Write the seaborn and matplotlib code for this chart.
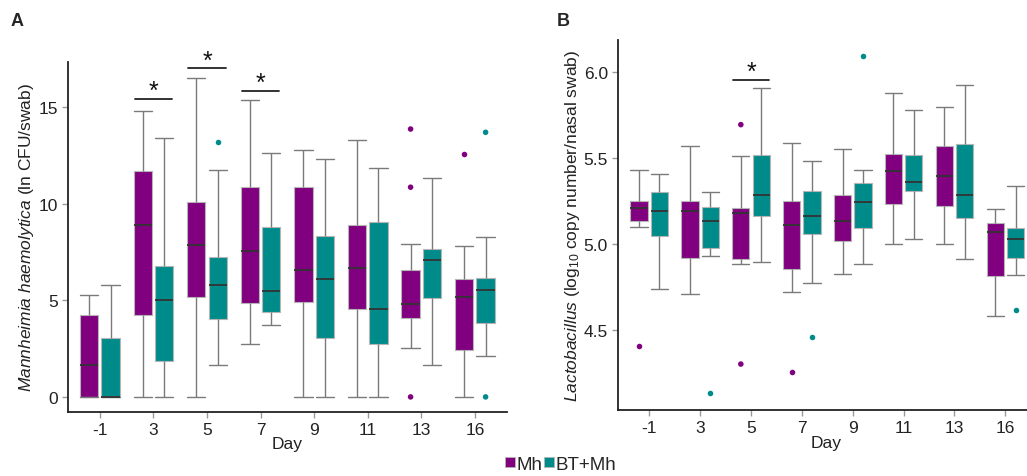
import numpy as np
import pandas as pd
import matplotlib
matplotlib.use("Agg")
import matplotlib.pyplot as plt
import seaborn as sns
from matplotlib.lines import Line2D

DAYS = ["-1", "3", "5", "7", "9", "11", "13", "16"]
GROUPS = ["Mh", "BT+Mh"]
COLORS = {"Mh": "#800080", "BT+Mh": "#008B8B"}

# ---- Panel A: Mannheimia haemolytica (ln CFU/swab) ----
A_MH_LOW = [0, 0, 0, 2.74, 0, 0, 2.52, 0]
A_MH_Q1 = [0, 4.24, 5.17, 4.86, 4.91, 4.53, 4.09, 2.45]
A_MH_MED = [1.64, 8.88, 7.88, 7.53, 6.59, 6.69, 4.79, 5.19]
A_MH_Q3 = [4.24, 11.69, 10.09, 10.85, 10.86, 8.88, 6.57, 6.10]
A_MH_HIGH = [5.29, 14.78, 16.50, 15.36, 12.79, 13.28, 7.90, 7.83]
A_BT_LOW = [0, 0, 1.64, 3.71, 0, 0, 1.64, 2.10]
A_BT_Q1 = [0, 1.86, 4.05, 4.41, 3.07, 2.74, 5.14, 3.81]
A_BT_MED = [0, 5.00, 5.81, 5.48, 6.09, 4.57, 7.10, 5.52]
A_BT_Q3 = [3.07, 6.76, 7.24, 8.78, 8.33, 9.07, 7.67, 6.16]
A_BT_HIGH = [5.81, 13.41, 11.76, 12.64, 12.33, 11.86, 11.35, 8.28]
A_OUT_DAY = ["5", "13", "13", "13", "16", "16", "16"]
A_OUT_GROUP = ["BT+Mh", "Mh", "Mh", "Mh", "Mh", "BT+Mh", "BT+Mh"]
A_OUT_VAL = [13.19, 13.86, 10.85, 0.0, 12.55, 13.69, 0.0]
A_SIG_DAYS = ["3", "5", "7"]
A_SIG_Y = [15.42, 17.0, 15.83]

# ---- Panel B: Lactobacillus (log10 copy number/nasal swab) ----
B_MH_LOW = [5.097, 4.706, 4.884, 4.719, 4.822, 4.996, 5.000, 4.582]
B_MH_Q1 = [5.134, 4.915, 4.911, 4.853, 5.016, 5.229, 5.219, 4.810]
B_MH_MED = [5.207, 5.188, 5.180, 5.109, 5.132, 5.421, 5.395, 5.070]
B_MH_Q3 = [5.250, 5.250, 5.209, 5.248, 5.283, 5.522, 5.568, 5.120]
B_MH_HIGH = [5.427, 5.570, 5.512, 5.585, 5.552, 5.878, 5.795, 5.202]
B_BT_LOW = [4.735, 4.927, 4.894, 4.773, 4.884, 5.025, 4.911, 4.818]
B_BT_Q1 = [5.045, 4.975, 5.161, 5.056, 5.093, 5.306, 5.148, 4.915]
B_BT_MED = [5.188, 5.134, 5.285, 5.159, 5.244, 5.359, 5.281, 5.027]
B_BT_Q3 = [5.302, 5.211, 5.514, 5.306, 5.353, 5.514, 5.581, 5.093]
B_BT_HIGH = [5.407, 5.300, 5.903, 5.479, 5.430, 5.779, 5.921, 5.337]
B_OUT_DAY = ["-1", "5", "5", "7", "3", "7", "9", "16"]
B_OUT_GROUP = ["Mh", "Mh", "Mh", "Mh", "BT+Mh", "BT+Mh", "BT+Mh", "BT+Mh"]
B_OUT_VAL = [4.407, 5.692, 4.300, 4.252, 4.130, 4.458, 6.091, 4.616]
B_SIG_DAYS = ["5"]
B_SIG_Y = [5.953]

sns.set_theme(style="white")
plt.rcParams["font.family"] = ["Liberation Sans", "DejaVu Sans"]
plt.rcParams["mathtext.fontset"] = "custom"
plt.rcParams["mathtext.rm"] = "Liberation Sans"
plt.rcParams["mathtext.it"] = "Liberation Sans:italic"
plt.rcParams["mathtext.bf"] = "Liberation Sans:bold"


def long_frame(mh, bt):
    rows = []
    for grp, stats in (("Mh", mh), ("BT+Mh", bt)):
        for i, d in enumerate(DAYS):
            for arr in stats:
                rows.append({"Day": d, "Group": grp, "val": arr[i]})
    return pd.DataFrame(rows)


def draw_panel(ax, mh, bt, out_day, out_group, out_val, sig_days, sig_y, star_off):
    df = long_frame(mh, bt)
    sns.boxplot(data=df, x="Day", y="val", hue="Group", order=DAYS,
                hue_order=GROUPS, palette=COLORS, saturation=1, width=0.8, gap=0.15,
                whis=(0, 100), linecolor="#7a7a7a", linewidth=1.0,
                boxprops={"edgecolor": "#b5b5b5", "linewidth": 0.8},
                medianprops={"color": "#333333", "linewidth": 1.3},
                capwidths=0.34, legend=False, ax=ax)
    odf = pd.DataFrame({"Day": out_day, "Group": out_group, "val": out_val})
    sns.stripplot(data=odf, x="Day", y="val", hue="Group", order=DAYS,
                  hue_order=GROUPS, palette=COLORS, dodge=True, jitter=False,
                  size=4, linewidth=0, legend=False, ax=ax)
    for d, y in zip(sig_days, sig_y):
        xi = DAYS.index(d)
        ax.plot([xi - 0.35, xi + 0.35], [y, y], color="#222222", lw=1.3)
        ax.annotate("*", (xi, y), xytext=(0, star_off), textcoords="offset points",
                    ha="center", va="bottom", fontsize=18, color="#111111")
    for s in ["top", "right"]:
        ax.spines[s].set_visible(False)
    for s in ["left", "bottom"]:
        ax.spines[s].set_color("#222222")
        ax.spines[s].set_linewidth(1.3)
    ax.tick_params(axis="both", which="both", length=4, width=1, color="#9a9a9a",
                   labelsize=12.5, labelcolor="#222222", bottom=True, left=True, pad=3)
    ax.set_xlabel("Day", fontsize=12.5, color="#222222")


fig = plt.figure(figsize=(10.27, 4.77), dpi=100)
axA = fig.add_axes([0.0659, 0.1342, 0.4278, 0.7338])
axB = fig.add_axes([0.6015, 0.1384, 0.3982, 0.7763])

draw_panel(axA, [A_MH_LOW, A_MH_Q1, A_MH_MED, A_MH_Q3, A_MH_HIGH],
           [A_BT_LOW, A_BT_Q1, A_BT_MED, A_BT_Q3, A_BT_HIGH],
           A_OUT_DAY, A_OUT_GROUP, A_OUT_VAL, A_SIG_DAYS, A_SIG_Y, -3)
axA.set_xlim(-0.6, 7.6)
axA.set_ylim(-0.78, 17.33)
axA.set_yticks([0, 5, 10, 15])
axA.set_ylabel(r"$\it{Mannheimia\ haemolytica}$ (ln CFU/swab)", fontsize=12.5,
               color="#222222")
axA.yaxis.set_label_coords(-0.072, 0.5)
axA.xaxis.set_label_coords(0.499, -0.069)

draw_panel(axB, [B_MH_LOW, B_MH_Q1, B_MH_MED, B_MH_Q3, B_MH_HIGH],
           [B_BT_LOW, B_BT_Q1, B_BT_MED, B_BT_Q3, B_BT_HIGH],
           B_OUT_DAY, B_OUT_GROUP, B_OUT_VAL, B_SIG_DAYS, B_SIG_Y, -3)
axB.set_xlim(-0.62, 7.42)
axB.set_ylim(4.033, 6.186)
axB.set_yticks([4.5, 5.0, 5.5, 6.0])
axB.set_yticklabels(["4.5", "5.0", "5.5", "6.0"])
axB.set_ylabel(r"$\it{Lactobacillus}$ (log$_{10}$ copy number/nasal swab)",
               fontsize=12.5, color="#222222")
axB.yaxis.set_label_coords(-0.087, 0.5)
axB.xaxis.set_label_coords(0.509, -0.0675)

fig.text(11 / 1027, 1 - 22 / 477, "A", fontsize=13, fontweight="bold", va="center")
fig.text(557 / 1027, 1 - 21 / 477, "B", fontsize=13, fontweight="bold", va="center")

handles = [Line2D([], [], marker="s", linestyle="None", markersize=6.5,
                  markerfacecolor=COLORS[g], markeredgecolor="#b5b5b5",
                  markeredgewidth=0.6) for g in GROUPS]
fig.legend(handles, GROUPS, loc="center", bbox_to_anchor=(0.546, 0.025),
           ncol=2, frameon=False, fontsize=13.5, handlelength=0.5,
           handletextpad=0.1, columnspacing=0.1, borderaxespad=0)

fig.savefig("out.png", dpi=100)
